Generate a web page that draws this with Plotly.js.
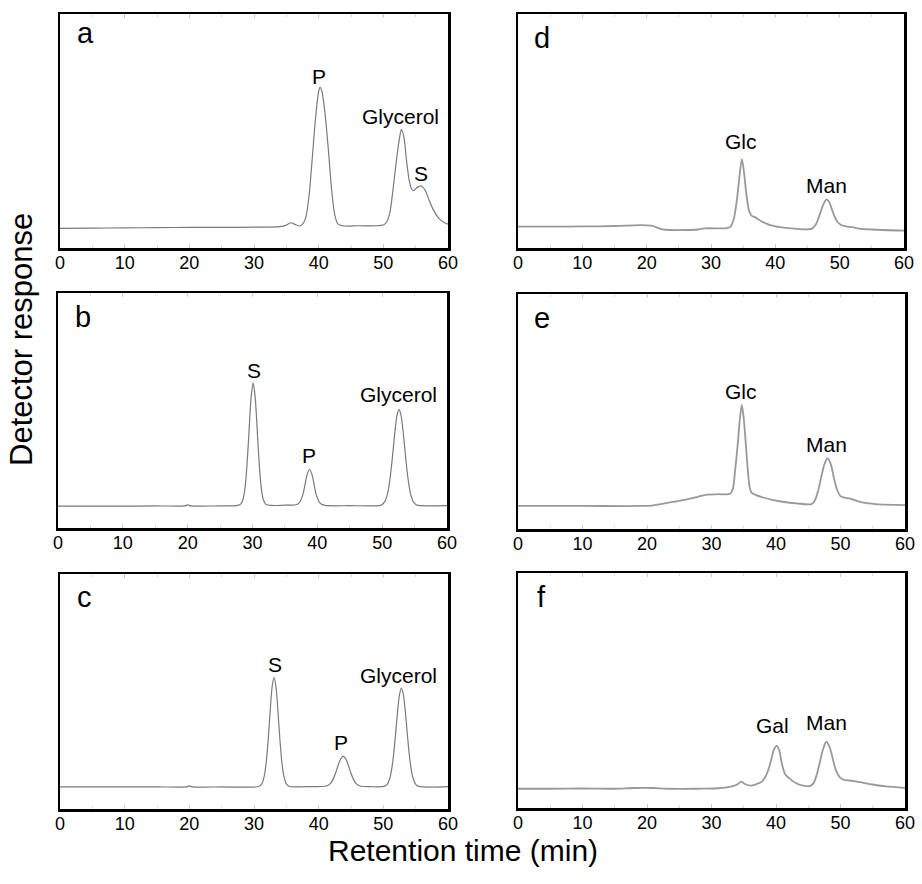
<!DOCTYPE html>
<html>
<head>
<meta charset="utf-8">
<script src="https://cdn.plot.ly/plotly-3.0.1.min.js"></script>
<style>html,body{margin:0;padding:0;background:#fff;}#chart{width:922px;height:884px;}</style>
</head>
<body>
<div id="chart"></div>
<script>
// ---------- data ----------
const tickValues = [0, 10, 20, 30, 40, 50, 60];
const tickLabels = ["0", "10", "20", "30", "40", "50", "60"];

const aTime   = [0, 5, 10, 15, 20, 25, 30, 34, 35, 35.7, 36.4, 37.1, 37.6, 38.0, 38.5, 39.0, 39.5, 40.0, 40.2, 40.5, 41.0, 41.5, 42.0, 42.5, 43.0, 44, 46, 49, 50, 50.5, 51, 51.5, 52, 52.5, 52.8, 53.2, 53.6, 54.0, 54.4, 54.7, 55.2, 55.9, 56.5, 57.0, 57.7, 58.5, 59.2, 60];
const aSignal = [8.4, 8.5, 8.6, 8.7, 8.8, 8.8, 8.9, 9.1, 9.8, 10.8, 10.0, 9.4, 10.5, 13, 22, 38, 55, 67, 68.7, 67, 57, 42, 25, 14, 10.2, 9.4, 9.5, 9.5, 9.8, 11, 15, 25, 37, 47, 50.7, 47, 37, 29, 25, 24.5, 25.8, 26.5, 24.5, 21, 16.5, 13, 11.2, 10.2];

const bTime   = [0, 5, 10, 15, 19.5, 20, 20.5, 25, 27.5, 28.1, 28.5, 28.8, 29.0, 29.2, 29.4, 29.6, 29.8, 30.1, 30.4, 30.6, 30.8, 31.0, 31.2, 31.4, 31.7, 32.1, 33, 35, 36.5, 37.0, 37.4, 37.8, 38.1, 38.4, 38.8, 39.2, 39.5, 39.8, 40.2, 40.6, 41.2, 45, 49.5, 49.9, 50.4, 50.8, 51.1, 51.4, 51.7, 52.0, 52.3, 52.6, 52.9, 53.2, 53.5, 53.8, 54.1, 54.4, 54.8, 55.3, 56, 60];
const bSignal = [9.3, 9.3, 9.3, 9.4, 9.4, 9.8, 9.4, 9.4, 9.5, 10, 11.8, 16, 21.4, 29, 38, 48, 56, 61.8, 56, 48, 38, 29, 21.4, 16, 11.8, 10, 9.6, 9.7, 9.8, 10.2, 11.5, 14.5, 18.5, 22.5, 25.0, 22.5, 18.5, 14.5, 11.5, 10.2, 9.6, 9.5, 9.5, 9.8, 11.2, 14.3, 18.8, 25.3, 33.5, 41.8, 48.1, 50.5, 48.1, 41.8, 33.5, 25.3, 18.8, 14.3, 11.2, 9.8, 9.5, 9.5];

const cTime   = [0, 5, 10, 15, 19.5, 20, 20.5, 25, 30.7, 31.2, 31.6, 31.9, 32.2, 32.5, 32.8, 33.1, 33.4, 33.7, 34.0, 34.3, 34.6, 35.0, 35.5, 38, 41.2, 41.8, 42.2, 42.6, 43.0, 43.4, 43.8, 44.2, 44.6, 45.0, 45.4, 45.8, 46.4, 48, 50.1, 50.6, 51.0, 51.3, 51.6, 51.9, 52.2, 52.5, 52.8, 53.1, 53.4, 53.7, 54.0, 54.3, 54.6, 55.0, 55.5, 60];
const cSignal = [9.4, 9.4, 9.4, 9.4, 9.4, 9.8, 9.4, 9.4, 9.6, 10.7, 14.2, 20.2, 29.8, 41.7, 51.9, 56, 51.9, 41.7, 29.8, 20.2, 14.2, 10.7, 9.6, 9.5, 9.8, 10.8, 12.5, 15.2, 18.5, 21.3, 22.5, 21.3, 18.5, 15.2, 12.5, 10.8, 9.8, 9.5, 9.6, 10.5, 13.1, 17.1, 23.5, 32.2, 41.4, 48.7, 51.4, 48.7, 41.4, 32.2, 23.5, 17.1, 13.1, 10.5, 9.6, 9.5];

const dTime   = [0, 5, 10, 15, 18, 20, 21, 22, 23, 26, 28, 29, 32.5, 33.0, 33.5, 34.0, 34.4, 34.8, 35.1, 35.5, 35.9, 36.3, 36.9, 37.5, 38.5, 40, 42, 45, 45.7, 46.3, 46.8, 47.3, 47.7, 48.0, 48.4, 48.8, 49.2, 49.7, 50.3, 51, 52, 53, 55, 60];
const dSignal = [9.1, 9.1, 9.2, 9.4, 9.7, 9.7, 9.4, 8.3, 7.8, 7.7, 7.9, 8.4, 8.5, 9.0, 12, 20, 30, 38, 33, 23, 16, 13.8, 13.1, 12, 10.5, 9.2, 8.5, 8.0, 8.3, 10, 13.5, 17.5, 20, 20.8, 19.5, 16.5, 13.5, 11, 9.7, 9.2, 8.9, 8.3, 7.9, 7.4];

const eTime   = [0, 10, 19, 21, 24, 26, 28, 29.3, 31, 32.9, 33.3, 33.7, 34.1, 34.4, 34.7, 35.0, 35.3, 35.6, 35.9, 36.2, 37, 38, 39.6, 41, 43.2, 45.5, 46.0, 46.5, 47.0, 47.5, 48.0, 48.5, 49.0, 49.5, 50.0, 50.7, 51.4, 52.5, 54, 56, 60];
const eSignal = [9.8, 9.8, 9.8, 10.1, 11.5, 12.5, 13.8, 14.6, 14.8, 15.0, 17, 26, 37, 47, 52.8, 47, 37, 26, 18, 15.5, 14.3, 13.4, 12.3, 11.6, 10.9, 10.6, 12, 16, 22, 27.5, 30.1, 27.5, 21.5, 16.5, 14, 13.3, 13.0, 12, 11, 10.5, 10.2];

const fTime   = [0, 5, 10, 15, 18, 21, 23, 28, 31, 33, 34.0, 34.6, 35.2, 36.0, 37.0, 37.8, 38.4, 38.9, 39.3, 39.7, 40.1, 40.5, 40.9, 41.4, 42.2, 43.2, 44.2, 45.2, 45.8, 46.3, 46.8, 47.3, 47.8, 48.3, 48.8, 49.3, 49.9, 50.5, 51.5, 53, 55, 57, 60];
const fSignal = [8.2, 8.2, 8.3, 8.2, 8.5, 8.5, 8.2, 8.2, 8.4, 9.1, 10, 11.2, 10.2, 9.5, 10.2, 11.2, 13.5, 17, 21, 25, 26.4, 24.5, 19, 14.5, 12.3, 10.4, 9.5, 9.3, 10.5, 14, 19.5, 25, 28.2, 26, 21, 16, 13, 12, 11.7, 11, 10, 9.2, 8.6];

const panelLetters = ["a", "b", "c", "d", "e", "f"];
const peakNames = [
  [["P", 40.1], ["Glycerol", 52.6], ["S", 55.8]],
  [["S", 30.2], ["P", 38.7], ["Glycerol", 52.5]],
  [["S", 33.2], ["P", 43.5], ["Glycerol", 52.4]],
  [["Glc", 34.6], ["Man", 48.0]],
  [["Glc", 34.5], ["Man", 47.8]],
  [["Gal", 39.5], ["Man", 47.8]]
];
const peakLabelHeights = [[73.5, 56.4, 32], [67.2, 30.9, 57], [61.5, 28.5, 57], [45.7, 26.9], [58.3, 36.0], [35.1, 36.2]];

// ---------- layout (positions / styles) ----------
const W = 922, H = 884;
const FONT = "Liberation Sans, Arial, sans-serif";
const series = [[aTime, aSignal], [bTime, bSignal], [cTime, cSignal], [dTime, dSignal], [eTime, eSignal], [fTime, fSignal]];
// pixel boxes [left, right, top, bottom]
const boxes = [
  [60, 448, 14, 248], [58, 447, 293, 528], [60, 448, 574, 809],
  [518, 904, 14, 248], [518, 905, 294, 529], [518, 905, 573, 808]
];
const letterPos = [[75, 33], [73, 317], [75, 597], [532, 38], [532, 318], [535, 597]];
const lineStyles = [
  {color: "#7a7a7a", width: 1.2}, {color: "#7a7a7a", width: 1.2}, {color: "#7a7a7a", width: 1.2},
  {color: "#999999", width: 1.8}, {color: "#999999", width: 1.8}, {color: "#999999", width: 1.8}
];

const traces = [];
const layout = {
  width: W, height: H,
  margin: {l: 0, r: 0, t: 0, b: 0},
  paper_bgcolor: "#ffffff", plot_bgcolor: "#ffffff",
  showlegend: false,
  font: {family: FONT, color: "#000"},
  annotations: []
};

series.forEach((s, i) => {
  const n = i + 1;
  const xa = n === 1 ? "x" : "x" + n;
  const ya = n === 1 ? "y" : "y" + n;
  traces.push({
    x: s[0], y: s[1], type: "scatter", mode: "lines",
    xaxis: xa, yaxis: ya,
    line: {color: lineStyles[i].color, width: lineStyles[i].width, shape: "spline", smoothing: 0.8},
    hoverinfo: "skip"
  });
  const b = boxes[i];
  layout[n === 1 ? "xaxis" : "xaxis" + n] = {
    domain: [b[0] / W, b[1] / W],
    anchor: ya,
    range: [0, 60],
    tickmode: "array", tickvals: tickValues, ticktext: tickLabels,
    ticks: "inside", ticklen: 4, tickcolor: "#cccccc", tickwidth: 1,
    minor: {dtick: 5, ticks: "inside", ticklen: 3, tickcolor: "#dddddd"},
    showline: true, mirror: "allticks", linecolor: "#000", linewidth: 2.5,
    showgrid: false, zeroline: false,
    ticklabelstandoff: -3,
    tickfont: {family: FONT, size: 18, color: "#000"},
    fixedrange: true
  };
  layout[n === 1 ? "yaxis" : "yaxis" + n] = {
    domain: [1 - b[3] / H, 1 - b[2] / H],
    anchor: xa,
    range: [0, 100],
    showticklabels: false, ticks: "",
    showline: true, mirror: true, linecolor: "#000", linewidth: 2.5,
    showgrid: false, zeroline: false, fixedrange: true
  };
  // panel letter
  layout.annotations.push({
    text: panelLetters[i], xref: "paper", yref: "paper",
    x: letterPos[i][0] / W, y: 1 - letterPos[i][1] / H,
    xanchor: "left", yanchor: "middle", showarrow: false,
    font: {family: FONT, size: 29, color: "#000"}
  });
  // peak labels
  peakNames[i].forEach((p, j) => {
    layout.annotations.push({
      text: p[0], xref: xa, yref: ya, x: p[1], y: peakLabelHeights[i][j],
      xanchor: "center", yanchor: "middle", showarrow: false,
      font: {family: FONT, size: 21, color: "#000"}
    });
  });
});

layout.annotations.push({
  text: "Retention time (min)", xref: "paper", yref: "paper",
  x: 463 / W, y: 1 - 850 / H, xanchor: "center", yanchor: "middle", showarrow: false,
  font: {family: FONT, size: 30, color: "#000"}
});
layout.annotations.push({
  text: "Detector response", xref: "paper", yref: "paper",
  x: 22 / W, y: 1 - 340 / H, xanchor: "center", yanchor: "middle", showarrow: false, textangle: -90,
  font: {family: FONT, size: 31, color: "#000"}
});

Plotly.newPlot("chart", traces, layout, {staticPlot: true, displayModeBar: false});
</script>
</body>
</html>
